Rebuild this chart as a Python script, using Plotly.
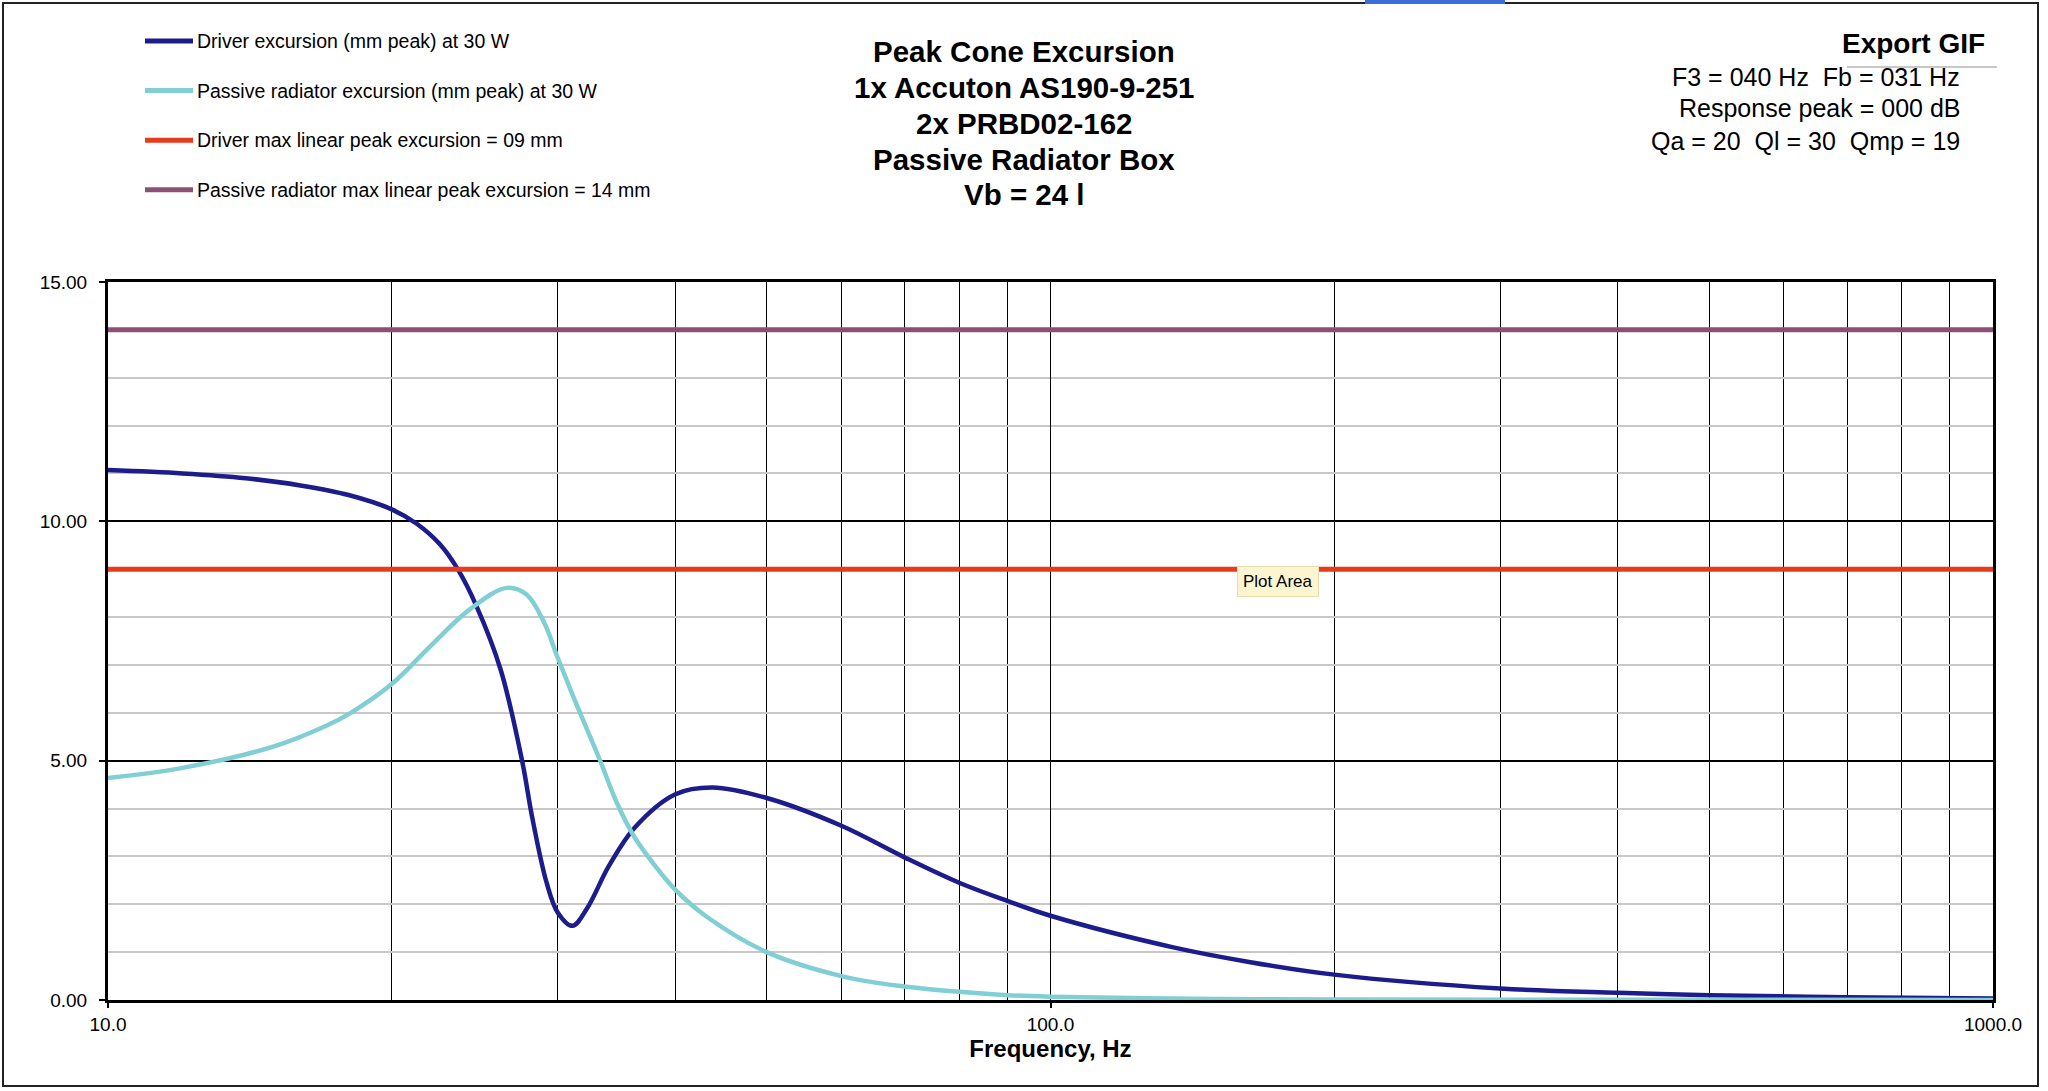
import plotly.graph_objects as go

# frequency (Hz) and peak excursion (mm)
drv_freq = [10, 12, 14, 16, 18, 20, 21.26, 22.5, 23.5, 24.6, 26.1, 27.5, 28.2,
            29.2, 30, 31.1, 32.2, 34, 36.2, 40, 43.8, 50, 60, 70, 80, 90, 100, 135, 163,
            200, 300, 400, 500, 700, 1000]
drv_exc = [11.07, 11.0, 10.9, 10.75, 10.55, 10.25, 9.95, 9.52, 9.0, 8.23, 6.9, 5.0, 3.8,
           2.45, 1.83, 1.55, 1.9, 2.8, 3.6, 4.3, 4.44, 4.22, 3.64, 2.98, 2.45, 2.07, 1.76, 1.1, 0.79,
           0.53, 0.24, 0.15, 0.10, 0.06, 0.03]

pr_freq = [10, 12, 15, 17, 18.1, 20, 22, 24.2, 26.5, 27.8, 29, 30, 31.3, 33.2, 34.7, 36.2,
           37.9, 40, 43.1, 50, 60, 70, 80, 90, 100, 150, 200, 1000]
pr_exc = [4.64, 4.85, 5.3, 5.72, 6.0, 6.6, 7.4, 8.16, 8.61, 8.47, 7.9, 7.15, 6.25, 5.05, 4.1, 3.4,
          2.85, 2.3, 1.75, 1.0, 0.5, 0.28, 0.17, 0.10, 0.07, 0.02, 0.01, 0.0]

limit_freq = [10, 1000]
drv_xmax = 9
pr_xmax = 14

names = ["Driver excursion (mm peak) at 30 W",
         "Passive radiator excursion (mm peak) at 30 W",
         "Driver max linear peak excursion = 09 mm",
         "Passive radiator max linear peak excursion = 14 mm"]
colors = ["#1c1c8c", "#7fcfd4", "#e63c1c", "#8c5078"]
widths = [4.5, 4.5, 5, 5]

title_lines = ["Peak Cone Excursion", "1x Accuton AS190-9-251", "2x PRBD02-162",
               "Passive Radiator Box", "Vb = 24 l"]
info_lines = ["F3 = 040 Hz\u00a0\u00a0Fb = 031 Hz", "Response peak = 000 dB",
              "Qa = 20\u00a0\u00a0Ql = 30\u00a0\u00a0Qmp = 19"]

x_major = [10, 100, 1000]
x_major_text = ["10.0", "100.0", "1000.0"]
x_minor = [20, 30, 40, 50, 60, 70, 80, 90, 200, 300, 400, 500, 600, 700, 800, 900]
y_major = [0, 5, 10, 15]
y_major_text = ["0.00", "5.00", "10.00", "15.00"]

W, H = 2048, 1091
L, R, T, B = 108, 1993, 282, 1000
FONT = "Liberation Sans, Arial, sans-serif"


def px(x):
    return (x - L) / (R - L)


def py(y):
    return (B - y) / (B - T)


fig = go.Figure()
series = [(drv_freq, drv_exc), (pr_freq, pr_exc),
          (limit_freq, [drv_xmax] * 2), (limit_freq, [pr_xmax] * 2)]
for (xs, ys), name, col, w in zip(series, names, colors, widths):
    fig.add_trace(go.Scatter(x=xs, y=ys, mode="lines", name=name, showlegend=False,
                             line=dict(color=col, width=w, shape="spline", smoothing=1.0)))

shapes = []
annotations = []

# hand-made legend, to get the long line samples of the original
for i, (name, col) in enumerate(zip(names, colors)):
    yc = 41 + i * 49.6
    shapes.append(dict(type="line", xref="paper", yref="paper",
                       x0=px(145), x1=px(193), y0=py(yc), y1=py(yc),
                       line=dict(color=col, width=5)))
    annotations.append(dict(text=name, xref="paper", yref="paper", x=px(195), y=py(yc),
                            xanchor="left", yanchor="middle", showarrow=False,
                            font=dict(family=FONT, size=19.5, color="black")))

# title block, one line per annotation to get the tighter line pitch
for i, t in enumerate(title_lines):
    annotations.append(dict(text="<b>%s</b>" % t, xref="paper", yref="paper",
                            x=px(1024), y=py(52 + i * 35.7),
                            xanchor="center", yanchor="middle", showarrow=False,
                            font=dict(family=FONT, size=29.5, color="black")))

annotations.append(dict(text="<b>Export GIF</b>", xref="paper", yref="paper",
                        x=px(1987), y=py(44), xanchor="right", yanchor="middle",
                        showarrow=False, font=dict(family=FONT, size=28, color="black")))
for t, yc in zip(info_lines, [77, 108, 141]):
    annotations.append(dict(text=t, xref="paper", yref="paper", x=px(1962), y=py(yc),
                            xanchor="right", yanchor="middle", showarrow=False,
                            font=dict(family=FONT, size=25, color="black")))

annotations.append(dict(text="Plot Area", xref="paper", yref="paper", x=px(1278), y=py(581),
                        xanchor="center", yanchor="middle", showarrow=False,
                        bgcolor="#fdf5cf", bordercolor="#e6dcb0", borderwidth=1, borderpad=5,
                        font=dict(family=FONT, size=17, color="black")))

# separator under "Export GIF"
shapes.append(dict(type="line", xref="paper", yref="paper", x0=px(1847), x1=px(1997),
                   y0=py(67), y1=py(67), line=dict(color="#c8c8c8", width=2)))
# chart frame and the blue tab of the sheet above it
shapes.append(dict(type="rect", xref="paper", yref="paper", x0=px(3), x1=px(2038),
                   y0=py(3), y1=py(1086), line=dict(color="#222222", width=2), layer="below"))
shapes.append(dict(type="rect", xref="paper", yref="paper", x0=px(1365), x1=px(1505),
                   y0=py(0), y1=py(4), fillcolor="#3b6fd6", line=dict(width=0)))

fig.update_layout(
    width=W, height=H,
    margin=dict(l=L, r=W - R, t=T, b=H - B, autoexpand=False),
    paper_bgcolor="white", plot_bgcolor="white",
    font=dict(family=FONT, size=19, color="black"),
    shapes=shapes, annotations=annotations,
    showlegend=False,
    xaxis=dict(type="log", range=[1, 3], tickvals=x_major, ticktext=x_major_text,
               showgrid=True, gridcolor="black", gridwidth=1, zeroline=False,
               showline=True, linecolor="black", linewidth=3, mirror=True,
               ticks="outside", ticklen=5, tickcolor="black", tickwidth=2,
               tickfont=dict(size=19),
               minor=dict(tickvals=x_minor, showgrid=True, gridcolor="black", gridwidth=1,
                          ticks=""),
               title=dict(text="<b>Frequency, Hz</b>", font=dict(size=24), standoff=6)),
    yaxis=dict(range=[0, 15], tickvals=y_major, ticktext=y_major_text,
               showgrid=True, gridcolor="black", gridwidth=2, zeroline=False,
               showline=True, linecolor="black", linewidth=3, mirror=True,
               ticks="outside", ticklen=6, tickcolor="black", tickwidth=2,
               tickfont=dict(size=19), ticklabelstandoff=8,
               minor=dict(dtick=1, showgrid=True, gridcolor="#c8c8c8", gridwidth=2, ticks="")),
)

fig.write_html("out.html", config={"displayModeBar": False},
               post_script="document.body.style.margin='0';document.body.style.overflow='hidden';")
